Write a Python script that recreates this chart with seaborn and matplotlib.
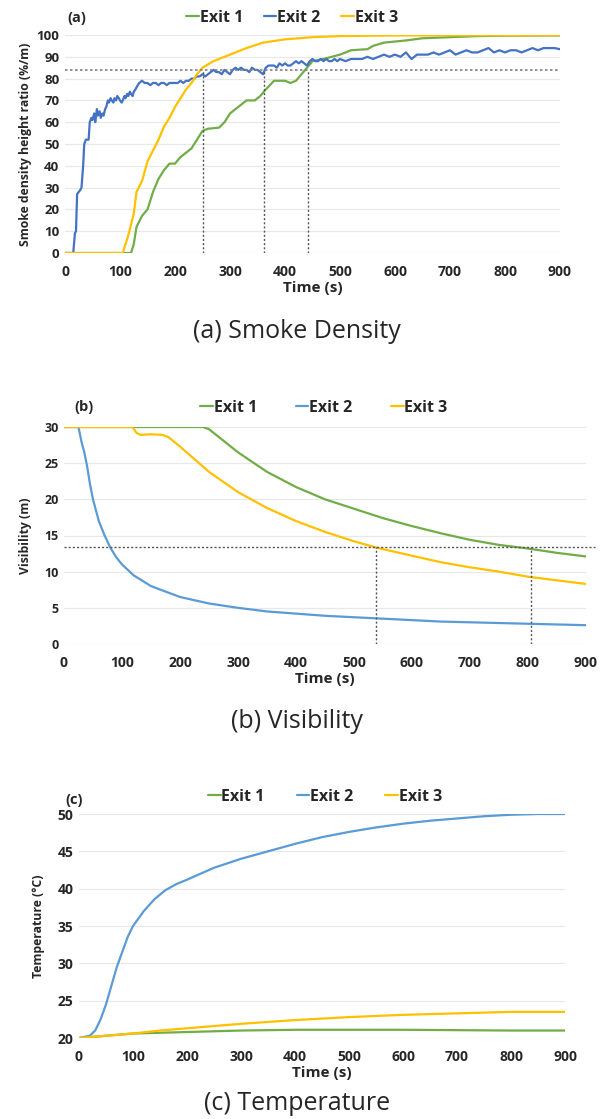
import numpy as np
import pandas as pd
import seaborn as sns
import matplotlib.pyplot as plt

# ---- data ----
# (a) smoke density height ratio (%/m)
t_a1 = [0, 120, 125, 130, 140, 150, 160, 170, 180, 190, 200, 210, 220, 230, 240, 250, 260, 280,
        290, 300, 320, 330, 345, 355, 365, 380, 400, 410, 420, 430, 440, 450, 470, 500, 520, 550,
        560, 580, 620, 650, 700, 750, 800, 900]
exit1_a = [0, 0, 4, 12, 17, 20, 28, 34, 38, 41, 41, 44, 46, 48, 52, 56, 57, 57.5,
           60, 64, 68, 70, 70, 72, 75, 79, 79, 78, 79, 82, 85, 88, 89, 91, 93, 93.5,
           95, 96.5, 97.5, 98.5, 99, 99.5, 99.7, 99.8]

t_a3 = [0, 105, 115, 125, 130, 140, 150, 160, 170, 180, 190, 200, 210, 220, 230, 240, 250, 270,
        300, 330, 360, 400, 450, 500, 600, 900]
exit3_a = [0, 0, 8, 18, 28, 33, 42, 47, 52, 58, 62, 67, 71, 75, 78, 82, 85, 88,
           91, 94, 96.5, 98, 99, 99.5, 99.8, 99.9]

t_a2 = [0, 15, 18, 20, 22, 25, 28, 30, 33, 35, 38, 40, 43, 45, 48, 50, 53, 55, 58, 60, 63, 65,
        68, 70, 73, 75, 78, 80, 83, 85, 88, 90, 93, 95, 98, 100, 103, 105, 108, 110, 113, 115,
        118, 120, 123, 125, 128, 130, 135, 140, 145, 150, 155, 160, 165, 170, 175, 180, 185,
        190, 195, 200, 205, 210, 215, 220, 225, 230, 235, 240, 245, 250, 255, 260, 265, 270,
        275, 280, 285, 290, 295, 300, 305, 310, 315, 320, 325, 330, 335, 340, 345, 350, 355,
        360, 365, 370, 375, 380, 385, 390, 395, 400, 405, 410, 415, 420, 425, 430, 435, 440,
        445, 450, 455, 460, 465, 470, 475, 480, 485, 490, 495, 500, 510, 520, 530, 540, 550,
        560, 570, 580, 590, 600, 610, 620, 630, 640, 650, 660, 670, 680, 690, 700, 710, 720,
        730, 740, 750, 760, 770, 780, 790, 800, 810, 820, 830, 840, 850, 860, 870, 880, 890, 900]
exit2_a = [0, 0, 9, 10, 27, 28, 29, 30, 40, 50, 52, 52, 52, 60, 62, 61, 64, 60, 66, 63, 65, 62,
           64, 63, 66, 67, 70, 69, 71, 70, 69, 71, 70, 72, 71, 70, 69, 70, 72, 71, 73, 72,
           74, 73, 72, 74, 75, 76, 78, 79, 78, 78, 77, 78, 78, 77, 78, 78, 77, 78, 78, 78,
           78, 79, 78, 79, 79, 80, 80, 81, 81, 82, 81, 82, 83, 84, 83, 83, 82, 84, 83, 82,
           84, 85, 84, 85, 84, 84, 83, 85, 84, 84, 83, 82, 85, 86, 86, 86, 85, 87, 86, 87,
           86, 86, 87, 88, 87, 88, 87, 86, 88, 89, 88, 88, 89, 88, 89, 88, 88, 89, 88, 89,
           88, 89, 89, 89, 90, 89, 90, 91, 90, 91, 90, 92, 89, 91, 91, 91, 92, 91, 92, 93,
           91, 92, 93, 92, 92, 93, 94, 92, 93, 92, 93, 93, 92, 93, 94, 93, 94, 94, 94, 93.5]

# (b) visibility (m)
t_b1 = [0, 240, 250, 300, 350, 400, 450, 500, 550, 600, 650, 700, 750, 800, 850, 900]
exit1_b = [30, 30, 29.7, 26.5, 23.8, 21.7, 20, 18.7, 17.4, 16.3, 15.3, 14.4, 13.7, 13.2, 12.6, 12.1]
t_b2 = [0, 25, 30, 35, 40, 45, 50, 60, 70, 80, 90, 100, 120, 150, 200, 250, 300, 350, 400,
        450, 500, 550, 600, 650, 700, 750, 800, 850, 900]
exit2_b = [30, 30, 28, 26.5, 24.5, 22, 20, 17, 15, 13.3, 12, 11, 9.5, 8, 6.5, 5.6, 5, 4.5, 4.2,
           3.9, 3.7, 3.5, 3.3, 3.1, 3, 2.9, 2.8, 2.7, 2.6]
t_b3 = [0, 118, 125, 132, 150, 170, 180, 200, 250, 300, 350, 400, 450, 500, 540, 600, 650, 700,
        750, 800, 850, 900]
exit3_b = [30, 30, 29.2, 28.9, 29, 28.9, 28.6, 27.3, 23.8, 21, 18.8, 17, 15.5, 14.2, 13.3, 12.2,
           11.3, 10.6, 10, 9.3, 8.8, 8.3]

# (c) temperature (°C)
t_c2 = [0, 20, 30, 40, 50, 60, 70, 80, 90, 100, 120, 140, 160, 180, 200, 250, 300, 350, 400,
        450, 500, 550, 600, 650, 700, 750, 800, 850, 900]
exit2_c = [20, 20.3, 21, 22.5, 24.5, 27, 29.5, 31.5, 33.5, 35, 37, 38.6, 39.8, 40.6, 41.2,
           42.8, 44, 45, 46, 46.9, 47.6, 48.2, 48.7, 49.1, 49.4, 49.7, 49.9, 50, 50]
t_c3 = [0, 100, 150, 200, 300, 400, 500, 600, 700, 800, 900]
exit3_c = [20, 20.6, 21, 21.3, 21.9, 22.4, 22.8, 23.1, 23.3, 23.5, 23.5]
t_c1 = [0, 100, 150, 200, 300, 400, 500, 600, 700, 800, 900]
exit1_c = [20, 20.6, 20.7, 20.8, 21, 21.1, 21.1, 21.1, 21.05, 21, 21]

thr_a, cross_a = 84, [250, 362, 442]
thr_b, cross_b = 13.4, [538, 805]

sns.set_theme(style="white")
plt.rcParams['font.family'] = ['Open Sans', 'DejaVu Sans']

W, H = 600, 1119
fig = plt.figure(figsize=(W / 100, H / 100), dpi=100)


def px_axes(left, right, top, bottom):
    return fig.add_axes([left / W, 1 - bottom / H, (right - left) / W, (bottom - top) / H])


def long_df(parts):
    frames = [pd.DataFrame({"t": t, "v": v, "s": name}) for name, t, v in parts]
    return pd.concat(frames, ignore_index=True)


def style_ax(ax, ylim, yticks, ylabel, ytick_size, tag, tag_xy, caption, cap_y, leg_xy, colsp):
    ax.set_xlim(0, 900)
    ax.set_ylim(*ylim)
    ax.set_xticks(range(0, 901, 100))
    ax.set_yticks(yticks)
    ax.yaxis.grid(True, color="#e8e8e8", lw=0.9)
    ax.set_axisbelow(True)
    for s in ax.spines.values():
        s.set_visible(False)
    ax.tick_params(axis="x", length=0, labelsize=10, pad=8.5)
    ax.tick_params(axis="y", length=0, labelsize=ytick_size, pad=4)
    for lab in ax.get_xticklabels() + ax.get_yticklabels():
        lab.set_fontweight("bold")
    ax.set_xlabel("Time (s)", fontsize=11, fontweight="bold", labelpad=1.5)
    ax.set_ylabel(ylabel, fontsize=8.8, fontweight="bold")
    fig.text(tag_xy[0] / W, 1 - tag_xy[1] / H, tag, fontsize=10.5, fontweight="bold", va="center")
    fig.text(0.495, 1 - cap_y / H, caption, ha="center", va="center", fontsize=18)
    h, l = ax.get_legend_handles_labels()
    ax.legend(h, l, loc="center", bbox_to_anchor=(leg_xy[0] / W, 1 - leg_xy[1] / H),
              bbox_transform=fig.transFigure, ncol=3, frameon=False,
              handlelength=0.8, handletextpad=0.05, columnspacing=colsp,
              prop={"weight": "bold", "size": 11.5})


dots = (0, (1.5, 1.5))

# (a)
ax = px_axes(65, 560, 35, 253)
df = long_df([("Exit 1", t_a1, exit1_a), ("Exit 2", t_a2, exit2_a), ("Exit 3", t_a3, exit3_a)])
pal_a = {"Exit 1": "#70ad47", "Exit 2": "#4472c4", "Exit 3": "#ffc000"}
sns.lineplot(data=df, x="t", y="v", hue="s", palette=pal_a, ax=ax, lw=1.6, sort=False)
ax.axhline(thr_a, color="#808080", ls=dots, lw=1.2)
for x in cross_a:
    ax.plot([x, x], [0, thr_a], color="#555555", ls=dots, lw=1.0)
style_ax(ax, (0, 100), range(0, 101, 10), "Smoke density height ratio (%/m)", 9.5,
         "(a)", (67, 18), "(a) Smoke Density", 332, (292, 18), 1.3)
ax.yaxis.labelpad = 3

# (b)
ax = px_axes(64, 586, 427, 644)
df = long_df([("Exit 1", t_b1, exit1_b), ("Exit 2", t_b2, exit2_b), ("Exit 3", t_b3, exit3_b)])
pal_b = {"Exit 1": "#70ad47", "Exit 2": "#5b9bd5", "Exit 3": "#ffc000"}
sns.lineplot(data=df, x="t", y="v", hue="s", palette=pal_b, ax=ax, lw=1.6, sort=False)
ax.plot([0, 915], [thr_b, thr_b], color="#555555", ls=dots, lw=1.0, clip_on=False)
for x in cross_b:
    ax.plot([x, x], [0, thr_b], color="#555555", ls=dots, lw=1.0)
style_ax(ax, (0, 30), range(0, 31, 5), "Visibility (m)", 9,
         "(b)", (74, 407), "(b) Visibility", 722, (324, 408), 2.4)
ax.yaxis.labelpad = 9

# (c)
ax = px_axes(79, 565, 814, 1038)
df = long_df([("Exit 1", t_c1, exit1_c), ("Exit 2", t_c2, exit2_c), ("Exit 3", t_c3, exit3_c)])
sns.lineplot(data=df, x="t", y="v", hue="s", palette=pal_b, ax=ax, lw=1.6, sort=False)
style_ax(ax, (20, 50), range(20, 51, 5), "Temperature (°C)", 10,
         "(c)", (65, 800), "(c) Temperature", 1103, (325, 797), 2.0)
ax.yaxis.labelpad = 9

fig.savefig("out.png", dpi=100, facecolor="white")
